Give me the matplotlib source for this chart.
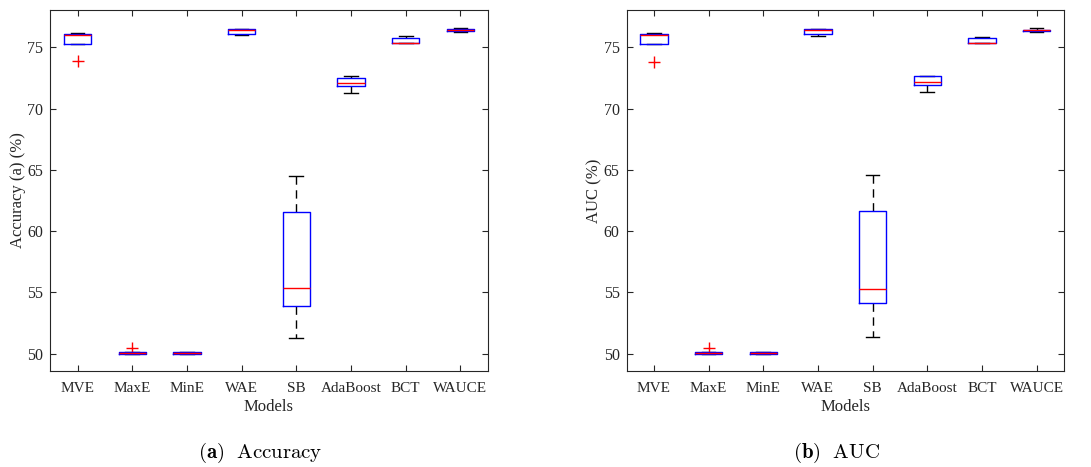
import matplotlib
matplotlib.use("Agg")
import matplotlib.pyplot as plt

models = ["MVE", "MaxE", "MinE", "WAE", "SB", "AdaBoost", "BCT", "WAUCE"]

# Accuracy (%) box statistics per model
acc_whislo = [75.27, 50.00, 50.00, 76.03, 51.28, 71.30, 75.33, 76.25]
acc_q1     = [75.27, 50.00, 50.00, 76.11, 53.91, 71.87, 75.33, 76.35]
acc_med    = [76.02, 50.05, 50.05, 76.41, 55.37, 72.12, 75.37, 76.41]
acc_q3     = [76.06, 50.15, 50.15, 76.47, 61.55, 72.52, 75.76, 76.47]
acc_whishi = [76.19, 50.15, 50.15, 76.52, 64.51, 72.66, 75.90, 76.60]
acc_fliers = [[73.88], [50.46], [], [], [], [], [], []]

# AUC (%) box statistics per model
auc_whislo = [75.27, 50.00, 50.00, 75.95, 51.34, 71.38, 75.33, 76.22]
auc_q1     = [75.27, 50.00, 50.00, 76.06, 54.10, 71.90, 75.33, 76.33]
auc_med    = [76.00, 50.05, 50.05, 76.41, 55.30, 72.15, 75.35, 76.38]
auc_q3     = [76.06, 50.15, 50.15, 76.47, 61.63, 72.63, 75.79, 76.44]
auc_whishi = [76.14, 50.15, 50.15, 76.52, 64.62, 72.66, 75.87, 76.57]
auc_fliers = [[73.78], [50.46], [], [], [], [], [], []]

yticks = [50, 55, 60, 65, 70, 75]

plt.rcParams["font.family"] = ["Liberation Serif", "DejaVu Serif"]
plt.rcParams["mathtext.fontset"] = "cm"

fig = plt.figure(figsize=(10.91, 4.67), dpi=100)
ax_a = fig.add_axes([0.0461, 0.2056, 0.4009, 0.773])
ax_b = fig.add_axes([0.5744, 0.2056, 0.4008, 0.773])

spine_col = "#262626"


def make_stats(whislo, q1, med, q3, whishi, fliers):
    return [
        dict(whislo=a, q1=b, med=c, q3=d, whishi=e, fliers=f, label=m)
        for a, b, c, d, e, f, m in zip(whislo, q1, med, q3, whishi, fliers, models)
    ]


def draw(ax, stats, ylabel, caption):
    ax.bxp(
        stats,
        positions=range(1, len(models) + 1),
        widths=0.5,
        showfliers=True,
        boxprops=dict(color="blue", linewidth=1.0, zorder=2.2),
        medianprops=dict(color="red", linewidth=1.0, zorder=2.3),
        whiskerprops=dict(color="black", linewidth=1.0, linestyle=(0, (6, 4)),
                          zorder=2.0),
        capprops=dict(color="black", linewidth=1.0, zorder=2.0),
        flierprops=dict(marker="+", markeredgecolor="red", markersize=8,
                        markeredgewidth=1.0, linestyle="none"),
    )
    ax.set_xlim(0.5, 8.5)
    ax.set_ylim(48.59, 78.05)
    ax.set_yticks(yticks)
    ax.set_xticks(range(1, len(models) + 1))
    ax.set_xticklabels(models)
    ax.tick_params(direction="in", top=True, right=True, length=4,
                   width=0.8, colors=spine_col, labelsize=11.5)
    ax.tick_params(axis="x", pad=8, labelsize=11)
    ax.tick_params(axis="y", pad=5)
    for s in ax.spines.values():
        s.set_color(spine_col)
        s.set_linewidth(0.8)
    ax.set_xlabel("Models", fontsize=12, color=spine_col, labelpad=3)
    ax.set_ylabel(ylabel, fontsize=12, color=spine_col, labelpad=1)
    ax.text(0.48, -0.228, caption, transform=ax.transAxes, ha="center",
            va="center", fontsize=15, color="black")


draw(ax_a, make_stats(acc_whislo, acc_q1, acc_med, acc_q3, acc_whishi, acc_fliers),
     "Accuracy (a) (%)", r"$\mathbf{(a)}\ \ \mathrm{Accuracy}$")
draw(ax_b, make_stats(auc_whislo, auc_q1, auc_med, auc_q3, auc_whishi, auc_fliers),
     "AUC (%)", r"$\mathbf{(b)}\ \ \mathrm{AUC}$")

fig.savefig("out.png", dpi=100)
